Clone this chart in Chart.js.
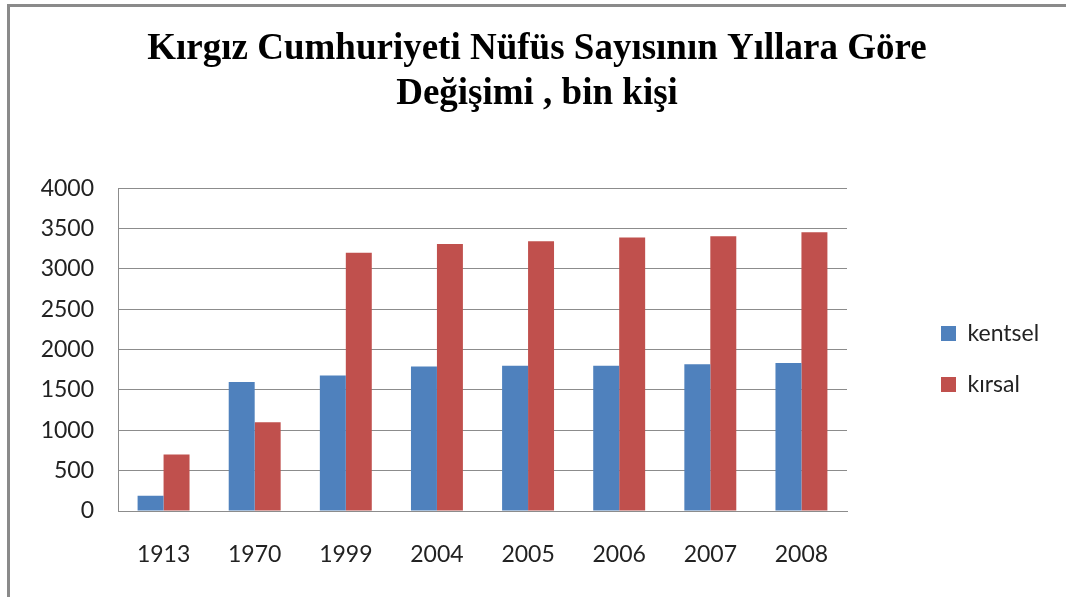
<!DOCTYPE html>
<html>
<head>
<meta charset="utf-8">
<script src="https://cdn.jsdelivr.net/npm/chart.js@4"></script>
<style>
  html, body { margin: 0; padding: 0; background: #fff; }
  #wrap { position: relative; width: 1066px; height: 597px; overflow: hidden; }
  #frame { position: absolute; left: 7px; top: 4px; width: 1070px; height: 600px;
           border-left: 3px solid #8a8a8a; border-top: 3px solid #8a8a8a; }
  canvas { position: absolute; left: 0; top: 0; }
</style>
</head>
<body>
<div id="wrap">
  <div id="frame"></div>
  <canvas id="chart" width="1066" height="597"></canvas>
</div>
<script>
const years = ['1913', '1970', '1999', '2004', '2005', '2006', '2007', '2008'];
const kentsel = [190, 1600, 1680, 1790, 1800, 1800, 1820, 1835];
const kirsal = [700, 1100, 3200, 3310, 3345, 3390, 3405, 3455];
const yTicks = [0, 500, 1000, 1500, 2000, 2500, 3000, 3500, 4000];

// wide legend column on the right, items pushed right and down
const legendShift = {
    id: 'legendShift',
    afterInit(chart) {
        const lg = chart.legend;
        const fit = lg.fit.bind(lg);
        lg.fit = function() {
            fit();
            this.width = 219;
        };
    },
    afterLayout(chart) {
        chart.legend.left = chart.chartArea.right + 66;
        chart.legend.top = chart.legend.top + 137;
    }
};

document.addEventListener("DOMContentLoaded", function() {
    const ctx = document.getElementById('chart').getContext('2d');
    const chart = new Chart(ctx, {
        type: 'bar',
        data: {
            labels: years,
            datasets: [
                {
                    label: 'kentsel',
                    data: kentsel,
                    backgroundColor: '#4f81bd',
                    barPercentage: 1,
                    categoryPercentage: 0.57
                },
                {
                    label: 'kırsal',
                    data: kirsal,
                    backgroundColor: '#c0504d',
                    barPercentage: 1,
                    categoryPercentage: 0.57
                }
            ]
        },
        plugins: [legendShift],
        options: {
            responsive: false,
            animation: false,
            layout: { padding: { left: 8, right: 0, top: 0, bottom: 16 } },
            plugins: {
                title: {
                    display: true,
                    text: ['Kırgız Cumhuriyeti Nüfüs Sayısının Yıllara Göre', 'Değişimi , bin kişi'],
                    font: { family: 'Liberation Serif', size: 37, weight: 'bold', lineHeight: 1.22 },
                    color: '#000',
                    padding: { top: 27, bottom: 71 }
                },
                legend: {
                    position: 'right',
                    labels: {
                        boxWidth: 15,
                        boxHeight: 15,
                        padding: 28,
                        color: '#222',
                        font: { family: 'Lato', size: 23 }
                    }
                },
                tooltip: { enabled: false }
            },
            scales: {
                y: {
                    min: 0,
                    max: 4000,
                    afterBuildTicks: function(axis) {
                        axis.ticks = yTicks.map(v => ({ value: v }));
                    },
                    afterFit: function(axis) { axis.width = 110; },
                    grid: { color: '#8c8c8c', drawTicks: false },
                    border: { color: '#8c8c8c' },
                    ticks: {
                        padding: 24,
                        color: '#222',
                        font: { family: 'Lato', size: 23 },
                        callback: function(v) { return String(v); }
                    }
                },
                x: {
                    afterFit: function(axis) { axis.height = 70; },
                    grid: { display: false },
                    border: { color: '#8c8c8c' },
                    ticks: { padding: 22, color: '#222', font: { family: 'Lato', size: 23 } }
                }
            }
        }
    });
});
</script>
</body>
</html>
